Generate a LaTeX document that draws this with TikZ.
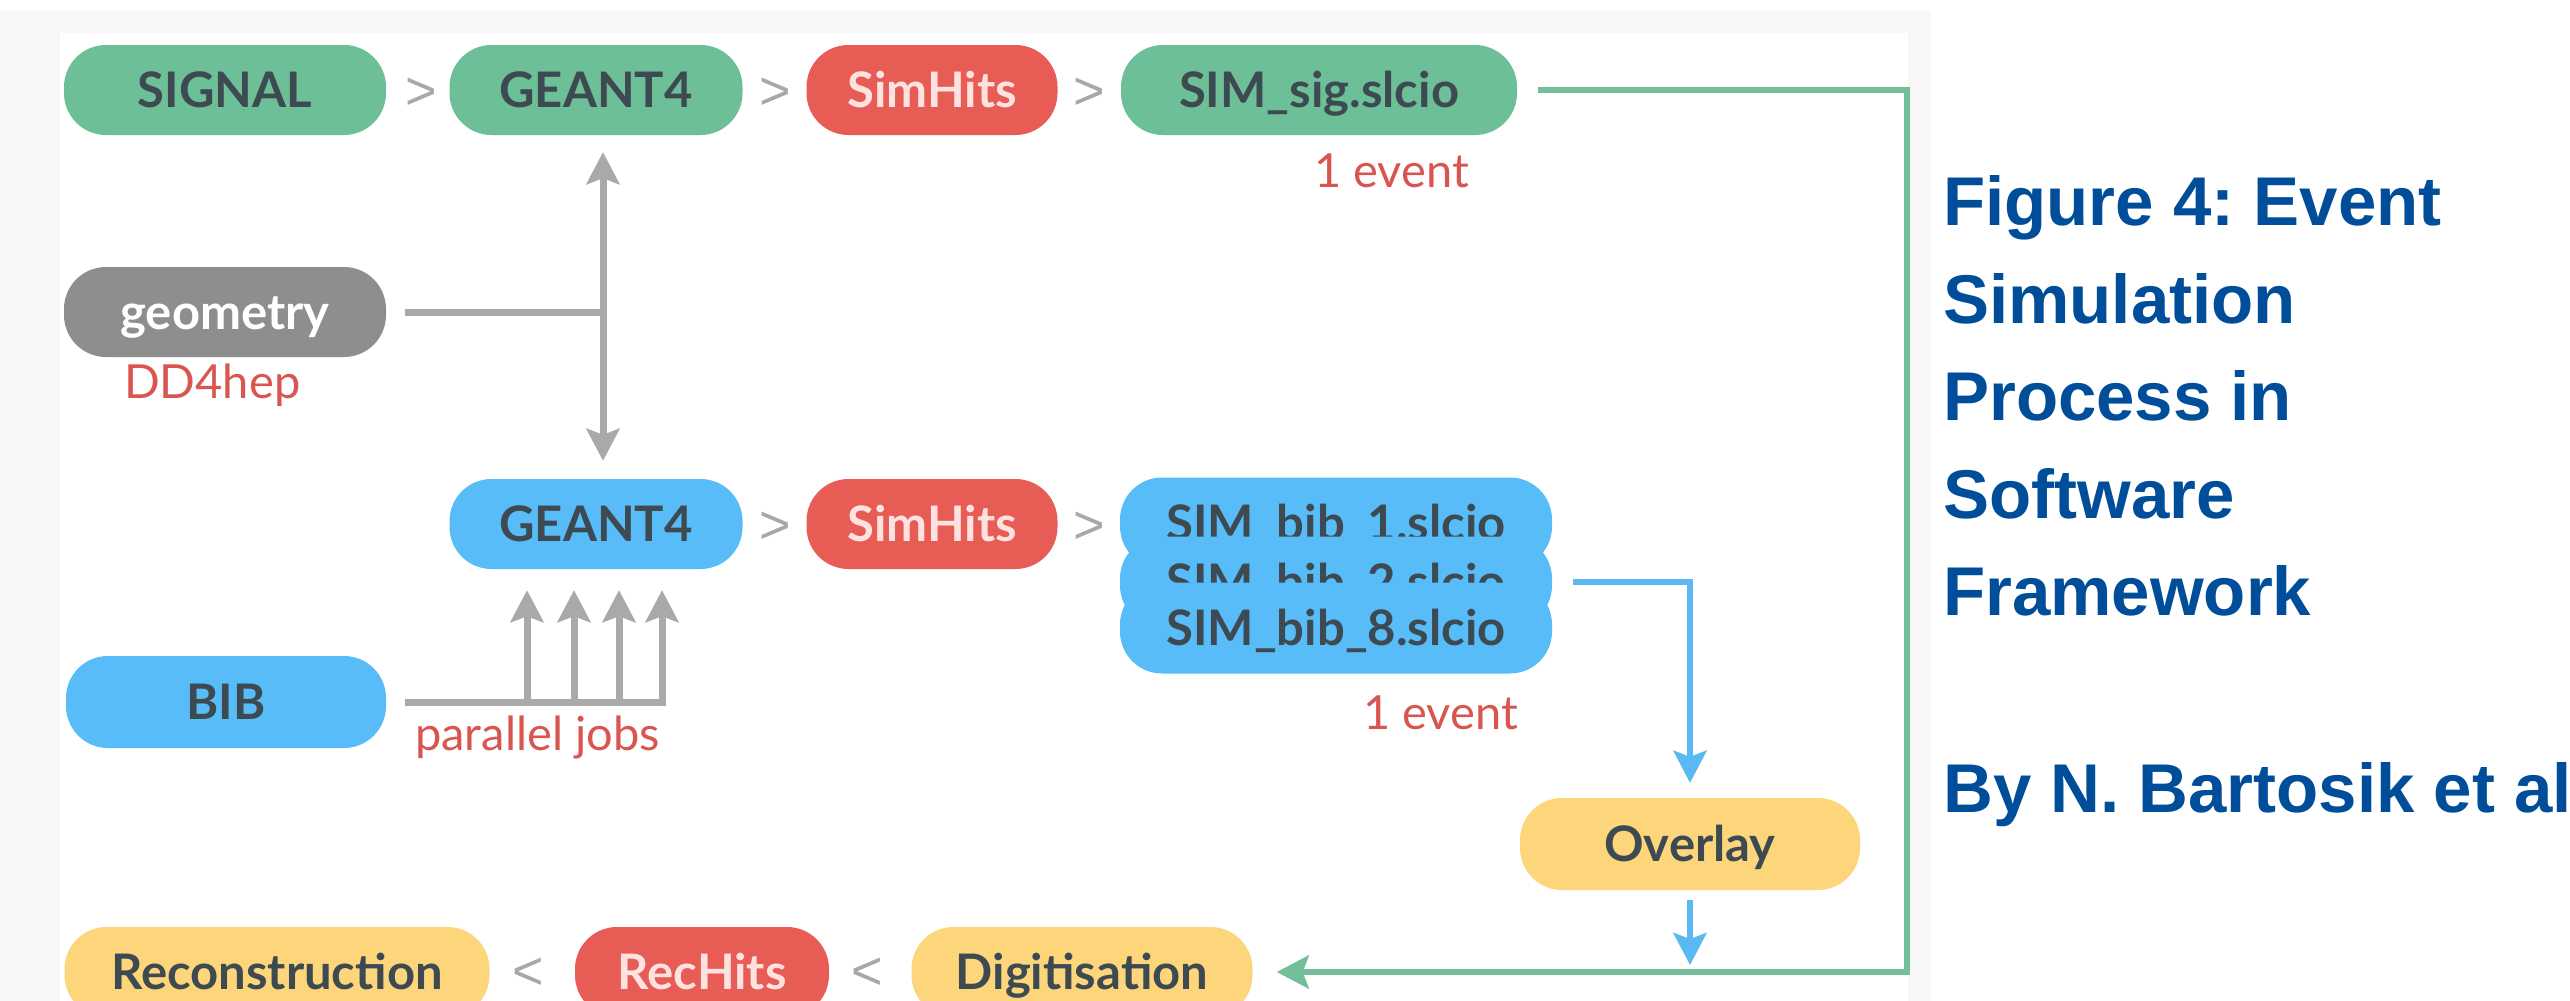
\documentclass[tikz,border=0pt]{standalone}
\usepackage{fontspec}
\setmainfont{Lato}
\newfontfamily\capfont{Liberation Sans}
\usetikzlibrary{arrows.meta}
\definecolor{pgreen}{RGB}{108,191,151}
\definecolor{pred}{RGB}{232,92,86}
\definecolor{pblue}{RGB}{88,188,248}
\definecolor{pgray}{RGB}{142,142,142}
\definecolor{pyellow}{RGB}{253,214,124}
\definecolor{pdark}{RGB}{62,74,82}
\definecolor{ppink}{RGB}{253,226,223}
\definecolor{lred}{RGB}{217,85,80}
\definecolor{lgray}{RGB}{169,169,169}
\definecolor{sepgray}{RGB}{168,168,168}
\definecolor{lgreen}{RGB}{114,191,154}
\definecolor{lblue}{RGB}{90,185,242}
\definecolor{capblue}{RGB}{0,77,153}
\definecolor{bgpanel}{RGB}{247,247,247}
\frenchspacing
\begin{document}
\begin{tikzpicture}[x=1pt,y=-1pt,
  pill/.style={rounded corners=42pt, minimum height=90pt, inner sep=0pt,
    text height=35pt, text depth=0pt, text=pdark,
    font=\fontsize{49}{49}\selectfont\bfseries},
  greenpill/.style={pill, fill=pgreen},
  redpill/.style={pill, fill=pred, text=ppink},
  bluepill/.style={pill, fill=pblue},
  graypill/.style={pill, fill=pgray, text=white},
  yellowpill/.style={pill, fill=pyellow},
  sepmark/.style={text=sepgray, inner sep=0pt, text height=38pt, text depth=0pt,
    font=\capfont\fontsize{54}{54}\selectfont},
  lbl/.style={text=lred, inner sep=0pt, anchor=base west,
    font=\fontsize{47}{47}\selectfont},
  capt/.style={text=capblue, inner sep=0pt, anchor=base west,
    font=\capfont\bfseries\fontsize{69}{69}\selectfont},
  tipstyle/.style={-{Stealth[length=32pt,width=33pt,inset=6pt]}},
  graylink/.style={draw=lgray, line width=7pt},
  greenlink/.style={draw=lgreen, line width=6pt},
  bluelink/.style={draw=lblue, line width=6pt}
]
\useasboundingbox (0,0) rectangle (2570,1001);
\fill[white] (0,0) rectangle (2570,1001);
\fill[bgpanel] (0,11) rectangle (1931,1001);
\fill[white] (60,33) rectangle (1908,1001);

% row 1
\node[greenpill, minimum width=322pt] (sig) at (225,90) {SIGNAL};
\node[sepmark] (s1) at (421,90) {>};
\node[greenpill, minimum width=293pt] (g4a) at (596,90) {GEANT4};
\node[sepmark] (s2) at (775,90) {>};
\node[redpill, minimum width=251pt] (sha) at (932,90) {SimHits};
\node[sepmark] (s3) at (1089,90) {>};
\node[greenpill, minimum width=396pt] (simsig) at (1319,90) {SIM\_sig.slcio};
\node[lbl] (ev1) at (1314,187) {1 event};

% geometry
\node[graypill, minimum width=322pt] (geom) at (225,312) {geometry};
\node[lbl] (dd) at (124,398) {DD4hep};

% row 2
\node[bluepill, minimum width=293pt] (g4b) at (596,524) {GEANT4};
\node[sepmark] (s4) at (775,524) {>};
\node[redpill, minimum width=251pt] (shb) at (932,524) {SimHits};
\node[sepmark] (s5) at (1089,524) {>};
\node[bluepill, minimum width=432pt, minimum height=91pt] (bib1) at (1336,523) {SIM\_bib\_1.slcio};
\node[bluepill, minimum width=432pt, minimum height=91pt] (bib2) at (1336,582) {SIM\_bib\_2.slcio};
\node[bluepill, minimum width=432pt, minimum height=91pt] (bib3) at (1336,628) {SIM\_bib\_8.slcio};
\node[lbl] (ev2) at (1363,729) {1 event};

% BIB
\node[bluepill, minimum width=320pt, minimum height=92pt] (bib) at (226,702) {BIB};
\node[lbl] (pj) at (415,750) {parallel jobs};

% overlay
\node[yellowpill, minimum width=340pt, minimum height=92pt] (overlay) at (1690,844) {Overlay};

% bottom row
\node[yellowpill, minimum width=425pt] (recon) at (277,972) {Reconstruction};
\node[sepmark] (s6) at (528,970) {<};
\node[redpill, minimum width=254pt] (rech) at (702,972) {RecHits};
\node[sepmark] (s7) at (867,970) {<};
\node[yellowpill, minimum width=341pt] (digit) at (1082,972) {Digitisation};

% caption
\node[capt] (c1) at (1943,225) {Figure 4: Event};
\node[capt] (c2) at (1943,323) {Simulation};
\node[capt] (c3) at (1943,420) {Process in};
\node[capt] (c4) at (1943,518) {Software};
\node[capt] (c5) at (1943,615) {Framework};
\node[capt] (c6) at (1943,812) {By N. Bartosik et al};

% gray geometry connectors
\coordinate (gj) at (603,312);
\coordinate (gt) at (gj |- g4a.south);
\coordinate (gb) at (gj |- g4b.north);
\draw[graylink] ([xshift=19pt]geom.east) -- (gj);
\draw[graylink, tipstyle] (gj) -- ([yshift=-17pt]gt);
\draw[graylink, tipstyle] (gj) -- ([yshift=18pt]gb);

% parallel jobs
\coordinate (p1) at (527,702);
\coordinate (p2) at (574,702);
\coordinate (p3) at (619,702);
\coordinate (p4) at (662,702);
\coordinate (pe) at (665.5,702);
\draw[graylink] ([xshift=19pt]bib.east) -- (pe);
\foreach \p in {p1,p2,p3,p4}{
  \coordinate (q) at (\p |- g4b.south);
  \draw[graylink, tipstyle] (\p) -- ([yshift=-21pt]q);
}

% green signal path
\coordinate (gc) at (1907,972);
\draw[greenlink, tipstyle] ([xshift=21pt]simsig.east) -| (gc) -- ([xshift=24pt]digit.east);

% blue bib path
\draw[bluelink, tipstyle] ([xshift=21pt]bib2.east) -| ([yshift=15pt]overlay.north);
\coordinate (ob) at (overlay.south |- gc);
\draw[bluelink, tipstyle] ([yshift=-10pt]overlay.south) -- ([yshift=7pt]ob);
\end{tikzpicture}
\end{document}
